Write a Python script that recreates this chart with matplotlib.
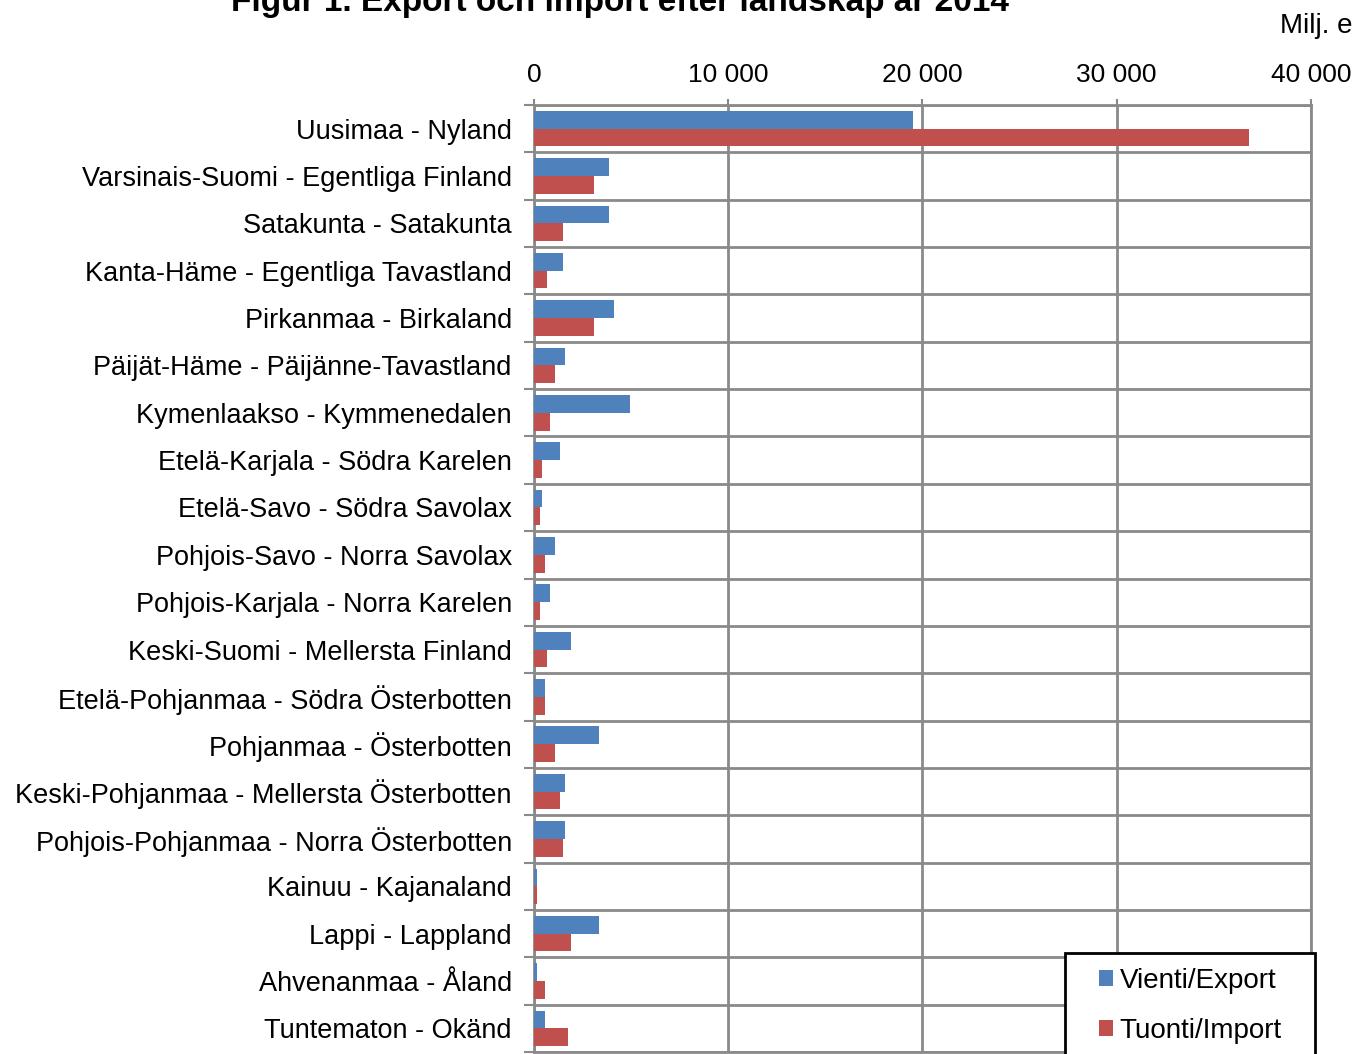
import numpy as np
import matplotlib.pyplot as plt
from matplotlib.ticker import FuncFormatter, FixedLocator
from matplotlib.patches import Rectangle

plt.rcParams['font.family'] = ['Liberation Sans', 'DejaVu Sans']

# Data (Milj. e)
regions = [
    'Uusimaa - Nyland',
    'Varsinais-Suomi - Egentliga Finland',
    'Satakunta - Satakunta',
    'Kanta-Häme - Egentliga Tavastland',
    'Pirkanmaa - Birkaland',
    'Päijät-Häme - Päijänne-Tavastland',
    'Kymenlaakso - Kymmenedalen',
    'Etelä-Karjala - Södra Karelen',
    'Etelä-Savo - Södra Savolax',
    'Pohjois-Savo - Norra Savolax',
    'Pohjois-Karjala - Norra Karelen',
    'Keski-Suomi - Mellersta Finland',
    'Etelä-Pohjanmaa - Södra Österbotten',
    'Pohjanmaa - Österbotten',
    'Keski-Pohjanmaa - Mellersta Österbotten',
    'Pohjois-Pohjanmaa - Norra Österbotten',
    'Kainuu - Kajanaland',
    'Lappi - Lappland',
    'Ahvenanmaa - Åland',
    'Tuntematon - Okänd',
]
export_vals = [19500, 3860, 3860, 1470, 4130, 1610, 4920, 1350, 430, 1080,
               820, 1890, 570, 3340, 1610, 1610, 170, 3340, 170, 570]
import_vals = [36800, 3070, 1470, 680, 3070, 1080, 820, 430, 290, 570,
               290, 680, 570, 1080, 1350, 1490, 170, 1890, 570, 1750]

BLUE = '#4F81BD'
RED = '#C0504D'
GRID = '#8a8a8a'
W, H = 1358, 1054

fig = plt.figure(figsize=(W / 100, H / 100), dpi=100)
ax = fig.add_axes([534 / W, 1 - 1052 / H, (1311 - 534) / W, (1052 - 105) / H])

y = np.arange(len(regions))
h = 0.375
ax.barh(y - h / 2, export_vals, height=h, color=BLUE, label='Vienti/Export', zorder=3)
ax.barh(y + h / 2, import_vals, height=h, color=RED, label='Tuonti/Import', zorder=3)

ax.set_xlim(0, 40000)
ax.set_ylim(len(regions) - 0.5, -0.5)

# x axis on top
ax.xaxis.tick_top()
ax.set_xticks([0, 10000, 20000, 30000, 40000])
ax.xaxis.set_major_formatter(FuncFormatter(lambda v, p: '{:,.0f}'.format(v).replace(',', ' ')))
ax.tick_params(axis='x', which='major', length=4, width=1.5, color=GRID,
               labelsize=19, pad=9)

# categories
ax.set_yticks(y)
ax.set_yticklabels(regions)
ax.yaxis.set_minor_locator(FixedLocator(np.arange(-0.5, len(regions), 1.0)))
ax.tick_params(axis='y', which='major', length=0, labelsize=19.5, pad=16)
ax.tick_params(axis='y', which='minor', length=7, width=1.5, color=GRID)

ax.grid(True, axis='x', which='major', color=GRID, linewidth=2, zorder=0)
ax.grid(True, axis='y', which='minor', color=GRID, linewidth=2, zorder=0)
ax.set_axisbelow(True)

for side in ['top', 'left', 'right', 'bottom']:
    ax.spines[side].set_color(GRID)
    ax.spines[side].set_linewidth(2)

fig.text(620 / W, 1 - 0 / H, 'Figur 1. Export och import efter landskap år 2014',
         ha='center', va='center', fontsize=24, fontweight='bold')
fig.text(1352 / W, 1 - 26 / H, 'Milj. e', ha='right', va='center', fontsize=20)

# legend box (runs off the bottom edge like the original)
fig.patches.append(Rectangle((1065 / W, -0.05), (1315 - 1065) / W, 0.05 + (H - 953) / H,
                             transform=fig.transFigure, facecolor='white',
                             edgecolor='black', linewidth=2, zorder=5))
leg = fig.legend(loc='upper left', bbox_to_anchor=(1099 / W, 1 - 968 / H),
                 fontsize=20, frameon=False, handlelength=0.5,
                 handleheight=0.5, handletextpad=0.25, labelspacing=0.87,
                 borderpad=0, borderaxespad=0)
leg.set_zorder(6)

fig.savefig('out.png', dpi=100)
